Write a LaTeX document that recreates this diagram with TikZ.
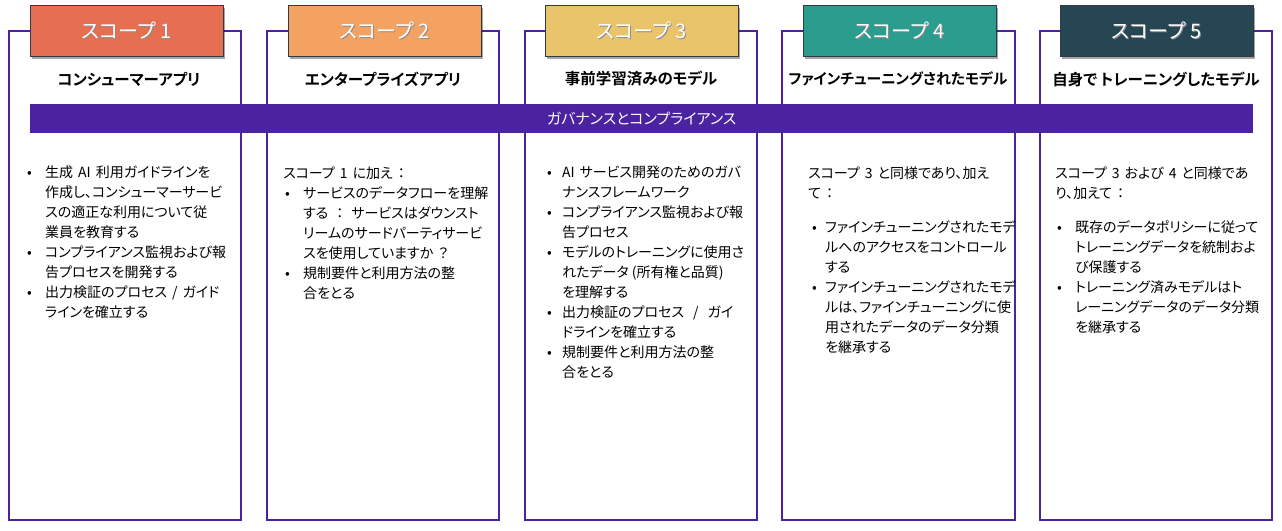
\documentclass[tikz,border=0pt]{standalone}
\usepackage{fontspec}
\setmainfont{Noto Sans CJK JP}[BoldFont={Noto Sans CJK JP Bold},RawFeature=+palt]
\usetikzlibrary{shadows}
\definecolor{gov}{HTML}{4B22A0}
\definecolor{hline}{HTML}{2E3B46}
\definecolor{sA}{HTML}{E76F51}
\definecolor{sB}{HTML}{F4A261}
\definecolor{sC}{HTML}{E9C46A}
\definecolor{sD}{HTML}{2A9D8F}
\definecolor{sE}{HTML}{264653}
\tikzset{
  colbox/.style={draw=gov, line width=2.4pt},
  hdr/.style={draw=hline, line width=0.8pt, minimum width=193pt, minimum height=51pt,
    anchor=north west, inner sep=0pt,
    drop shadow={shadow xshift=2pt, shadow yshift=-2.5pt, opacity=0.35, fill=black}},
  hdrtxt/.style={text=white, font=\fontsize{20}{24}\selectfont, inner sep=0pt},
  hdrsh/.style={text=black!45, font=\fontsize{20}{24}\selectfont, inner sep=0pt},
  ttl/.style={font=\fontsize{15.5}{18}\selectfont\bfseries, inner sep=0pt},
  body/.style={font=\fontsize{14}{20}\selectfont, anchor=base west, inner sep=0pt},
}
\newcommand\gp{\hspace{5pt}}
\begin{document}
\begin{tikzpicture}[x=1pt,y=-1pt]
\useasboundingbox (0,0) rectangle (1282,530);
% columns
\draw[colbox] (9,31) rectangle (241,520);
\draw[colbox] (267,31) rectangle (499,520);
\draw[colbox] (525,31) rectangle (757,520);
\draw[colbox] (782,31) rectangle (1015,520);
\draw[colbox] (1040,31) rectangle (1272,520);
% headers
\node[hdr, fill=sA] (h1) at (30,5) {};
\node[hdr, fill=sB] (h2) at (288,5) {};
\node[hdr, fill=sC] (h3) at (545,5) {};
\node[hdr, fill=sD] (h4) at (803,5) {};
\node[hdr, fill=sE] (h5) at (1060,5) {};
\foreach \n/\t in {h1/1,h2/2,h3/3,h4/4,h5/5}{
  \node[hdrsh, xshift=0.9pt, yshift=-0.9pt] (\n s) at (\n) {スコープ\gp\t};
  \node[hdrtxt] (\n t) at (\n) {スコープ\gp\t};
}
% titles
\node[ttl] (t1) at (129,79) {コンシューマーアプリ};
\node[ttl] (t2) at (383,79) {エンタープライズアプリ};
\node[ttl] (t3) at (641,79) {事前学習済みのモデル};
\node[ttl, font=\fontsize{14.8}{18}\selectfont\bfseries] (t4) at (898,79) {ファインチューニングされたモデル};
\node[ttl] (t5) at (1156,79) {自身で\hspace{3pt}トレーニングしたモデル};
% governance bar
\node[fill=gov, minimum width=1223pt, minimum height=29pt, inner sep=0pt, anchor=north west,
  text=white, font=\fontsize{15}{18}\selectfont] (gov) at (30,104) {ガバナンスとコンプライアンス};
% bodies
\node[body] (b1) at (27,177.5) {\begin{tabular}[t]{@{}p{18pt}@{}l@{}}
• & 生成\gp AI\gp 利用ガイドラインを\\
 & 作成し、コンシューマーサービ\\
 & スの適正な利用について従\\
 & 業員を教育する\\
• & コンプライアンス監視および報\\
 & 告プロセスを開発する\\
• & 出力検証のプロセス\gp /\gp ガイド\\
 & ラインを確立する
\end{tabular}};
\node[body] (b2) at (283,178) {\begin{tabular}[t]{@{}p{20pt}@{}l@{}}
\multicolumn{2}{@{}l@{}}{スコープ\gp 1\gp に加え\gp ：}\\
\hspace*{2pt}• & サービスのデータフローを理解\\
 & する\hspace{8pt}：\hspace{8pt}サービスはダウンスト\\
 & リームのサードパーティサービ\\
 & スを使用していますか\gp ？\\
\hspace*{2pt}• & 規制要件と利用方法の整\\
 & 合をとる
\end{tabular}};
\node[body] (b3) at (547,177.5) {\begin{tabular}[t]{@{}p{15pt}@{}l@{}}
• & AI\gp サービス開発のためのガバ\\
 & ナンスフレームワーク\\
• & コンプライアンス監視および報\\
 & 告プロセス\\
• & モデルのトレーニングに使用さ\\
 & れたデータ (所有権と品質)\\
 & を理解する\\
• & 出力検証のプロセス\hspace{9pt}/\hspace{9pt}ガイ\\
 & ドラインを確立する\\
• & 規制要件と利用方法の整\\
 & 合をとる
\end{tabular}};
\node[body] (b4) at (808,178.5) {\begin{tabular}[t]{@{}p{17pt}@{}l@{}}
\multicolumn{2}{@{}l@{}}{スコープ\gp 3\gp と同様であり、加え}\\
\multicolumn{2}{@{}l@{}}{て\gp ：}\\[14pt]
\hspace*{4pt}• & ファインチューニングされたモデ\\
 & ルへのアクセスをコントロール\\
 & する\\
\hspace*{4pt}• & ファインチューニングされたモデ\\
 & ルは、ファインチューニングに使\\
 & 用されたデータのデータ分類\\
 & を継承する
\end{tabular}};
\node[body] (b5) at (1055,178.5) {\begin{tabular}[t]{@{}p{20pt}@{}l@{}}
\multicolumn{2}{@{}l@{}}{スコープ\gp 3\gp および\gp 4\gp と同様であ}\\
\multicolumn{2}{@{}l@{}}{り、加えて\gp ：}\\[14pt]
\hspace*{2pt}• & 既存のデータポリシーに従って\\
 & トレーニングデータを統制およ\\
 & び保護する\\
\hspace*{2pt}• & トレーニング済みモデルはト\\
 & レーニングデータのデータ分類\\
 & を継承する
\end{tabular}};
\end{tikzpicture}
\end{document}
